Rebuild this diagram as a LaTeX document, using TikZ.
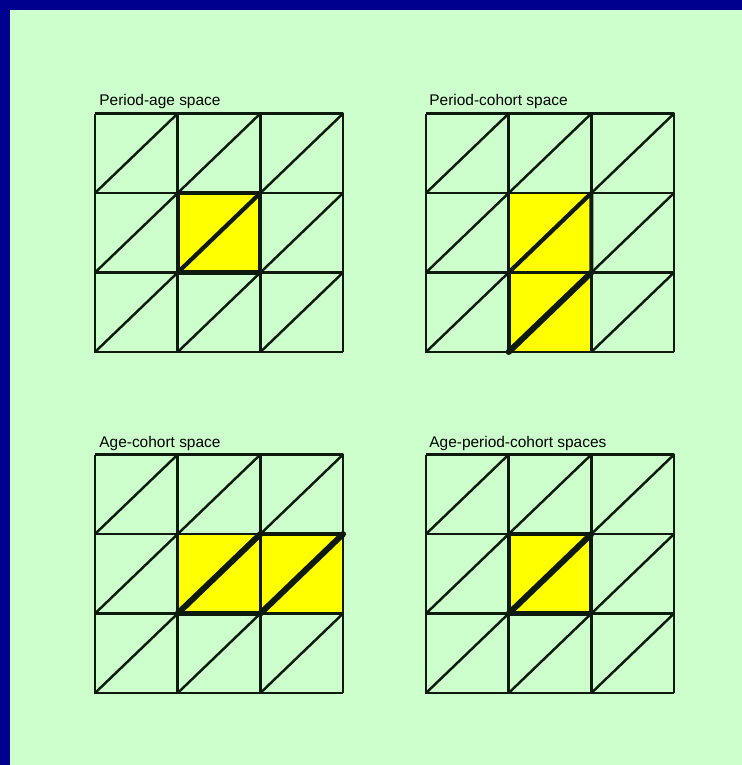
\documentclass[tikz,border=0pt]{standalone}
\usepackage{fontspec}
\setmainfont{Liberation Sans}
\usetikzlibrary{positioning}
\definecolor{framenavy}{HTML}{00008E}
\definecolor{panelgreen}{HTML}{CCFFCC}
\definecolor{cellyellow}{HTML}{FFFF00}
\definecolor{lineink}{HTML}{0F1A0F}

\begin{document}
\begin{tikzpicture}[
  x=0.02cm, y=-0.02cm,
  gridline/.style={draw=lineink, line width=1.4pt},
  diag/.style={draw=lineink, line width=1.4pt, line cap=round},
  bold/.style={draw=lineink, line width=2.4pt, line cap=round, line join=round},
  heavy/.style={draw=lineink, line width=3.4pt, line cap=round},
  ttl/.style={font=\fontsize{8.8}{10}\selectfont, anchor=base west, inner sep=0pt}]
\fill[framenavy] (0,0) rectangle (742,765);
\fill[panelgreen] (10,10) rectangle (742,765);
% period-age
\begin{scope}[shift={(95,352)}, x=1.654cm, y=1.59cm]
\fill[cellyellow] (1,1) rectangle (2,2);
\draw[gridline, step=1] (0,0) grid (3,3);
\foreach \i in {0,1,2} \foreach \j in {0,1,2} \draw[diag] (\i,\j) -- ++(1,1);
\draw[bold] (1,1) rectangle (2,2);
\draw[bold] (1,1) -- (2,2);
\end{scope}
% period-cohort
\begin{scope}[shift={(426,352)}, x=1.654cm, y=1.59cm]
\fill[cellyellow] (1,0) rectangle (2,2);
\draw[gridline, step=1] (0,0) grid (3,3);
\foreach \i in {0,1,2} \foreach \j in {0,1,2} \draw[diag] (\i,\j) -- ++(1,1);
\draw[bold] (1,1) -- (2,2) -- (2,1);
\draw[bold] (1,0) -- (1,1);
\draw[heavy] (1,0) -- (2,1);
\end{scope}
% age-cohort
\begin{scope}[shift={(95,693)}, x=1.654cm, y=1.59cm]
\fill[cellyellow] (1,1) rectangle (3,2);
\draw[gridline, step=1] (0,0) grid (3,3);
\foreach \i in {0,1,2} \foreach \j in {0,1,2} \draw[diag] (\i,\j) -- ++(1,1);
\draw[bold] (1,1) -- (2,1);
\draw[bold] (2,2) -- (3,2);
\draw[heavy] (1,1) -- (2,2);
\draw[heavy] (2,1) -- (3,2);
\end{scope}
% age-period-cohort
\begin{scope}[shift={(426,693)}, x=1.654cm, y=1.59cm]
\fill[cellyellow] (1,1) rectangle (2,2);
\draw[gridline, step=1] (0,0) grid (3,3);
\foreach \i in {0,1,2} \foreach \j in {0,1,2} \draw[diag] (\i,\j) -- ++(1,1);
\draw[bold] (1,1) rectangle (2,2);
\draw[heavy] (1,1) -- (2,2);
\end{scope}
\node[ttl] (pa)  at (99,105)  {Period-age space};
\node[ttl] (pc)  at (429,105) {Period-cohort space};
\node[ttl] (ac)  at (99,447)  {Age-cohort space};
\node[ttl] (apc) at (429,447) {Age-period-cohort spaces};
\end{tikzpicture}
\end{document}
